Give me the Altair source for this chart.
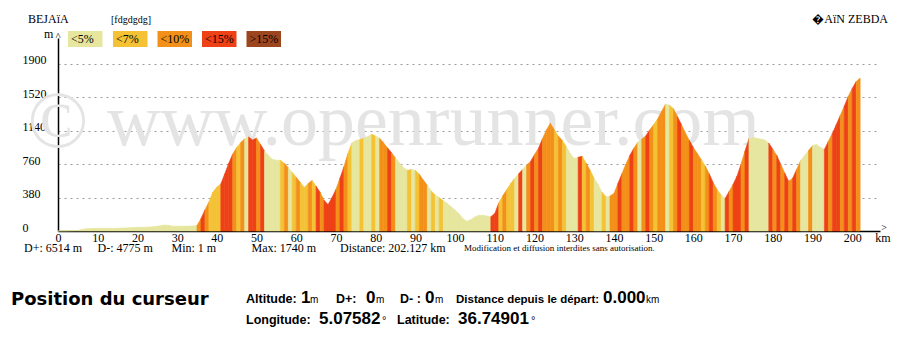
import altair as alt
import pandas as pd

# ---------------- data ----------------
elev = [
    1, 2, 3, 4, 5, 8, 18, 25, 28, 30,
    30, 30, 31, 30, 30, 32, 33, 35, 38, 40,
    42, 42, 44, 45, 48, 55, 62, 68, 62, 55,
    54, 55, 55, 56, 58, 62, 140, 240, 330, 440,
    500, 535, 650, 770, 875, 950, 1005, 1050, 1070, 1035,
    1058, 985, 910, 860, 815, 805, 805, 770, 720, 665,
    610, 555, 495, 540, 575, 510, 440, 350, 300, 380,
    475, 600, 730, 880, 1000, 1030, 1040, 1055, 1075, 1100,
    1080, 1055, 1000, 945, 890, 830, 775, 720, 690, 700,
    690, 645, 580, 520, 455, 410, 380, 345, 315, 275,
    240, 195, 140, 110, 130, 160, 180, 178, 170, 163,
    200, 320, 400, 470, 540, 600, 650, 700, 750, 790,
    870, 940, 1050, 1150, 1225, 1150, 1080, 1030, 960, 880,
    825, 840, 850, 770, 690, 600, 530, 440, 390, 397,
    427, 540, 650, 760, 860, 940, 1010, 1045, 1080, 1150,
    1210, 1275, 1360, 1445, 1430, 1390, 1300, 1210, 1115, 1030,
    950, 880, 810, 740, 650, 550, 470, 410, 370, 450,
    530, 625, 760, 910, 1050, 1062, 1055, 1045, 1035, 1000,
    930, 860, 760, 660, 565, 600, 700, 800, 860, 915,
    970, 985, 950, 928, 1020, 1110, 1210, 1315, 1420, 1530,
    1620, 1700, 1740,
]
km = list(range(len(elev)))

# slope class of each 1-km segment (index into labels)
cats = [
    0, 0, 0, 0, 0, 0, 0, 0, 0, 0,
    0, 0, 0, 0, 0, 0, 0, 0, 0, 0,
    0, 0, 0, 0, 0, 0, 0, 0, 0, 0,
    0, 0, 0, 0, 0, 2, 3, 2, 1, 1,
    1, 3, 3, 3, 2, 1, 2, 0, 3, 3,
    2, 3, 0, 0, 0, 0, 1, 2, 0, 1,
    2, 1, 1, 2, 1, 3, 2, 3, 3, 3,
    2, 3, 2, 1, 0, 0, 1, 0, 0, 1,
    0, 2, 2, 3, 2, 0, 0, 0, 1, 0,
    1, 2, 2, 0, 1, 0, 1, 0, 0, 0,
    0, 0, 0, 0, 0, 0, 0, 0, 0, 3,
    3, 1, 2, 1, 1, 0, 3, 0, 2, 3,
    2, 3, 2, 2, 2, 1, 2, 1, 0, 0,
    0, 3, 1, 2, 1, 0, 0, 1, 0, 2,
    2, 3, 2, 2, 3, 2, 0, 2, 3, 2,
    1, 2, 2, 0, 1, 2, 3, 2, 2, 3,
    2, 2, 1, 2, 3, 2, 1, 0, 3, 2,
    3, 3, 2, 3, 0, 0, 0, 0, 0, 3,
    2, 3, 2, 3, 2, 3, 2, 0, 0, 2,
    0, 0, 0, 3, 2, 3, 3, 2, 3, 2,
    3, 2,
]

labels = ["<5%", "<7%", "<10%", "<15%", ">15%"]
colors = ["#e6e69e", "#f4c234", "#f39019", "#ee4116", "#9c4620"]
y_ticks = [0, 380, 760, 1140, 1520, 1900]
x_ticks = list(range(0, 201, 10))

stats = ["D+: 6514 m", "D-: 4775 m", "Min: 1 m", "Max: 1740 m", "Distance: 202.127 km"]

rows = []
for k, c in enumerate(cats):
    for j in (k, k + 1):
        rows.append({"seg": k, "km": km[j], "elev": elev[j], "cat": labels[c]})
df = pd.DataFrame(rows)

# ---------------- layout ----------------
L, T, W, H = 58, 38, 822, 193
SERIF = "Liberation Serif"
SANS = "Liberation Sans"


def txt(s, X, Y, size=12, font=SERIF, weight="normal", align="left",
        color="black", baseline="alphabetic"):
    return alt.Chart(alt.Data(values=[{"t": s}])).mark_text(
        font=font, fontSize=size, fontWeight=weight, align=align,
        baseline=baseline, color=color,
    ).encode(x=alt.value(X - L), y=alt.value(Y - T), text=alt.Text("t:N"))


wm_copy = txt("\u00a9", 58, 147, size=80, align="center", color="#e4e4e4")
wm_text = txt("www.openrunner.com", 107, 145, size=74, align="left", color="#e4e4e4")

cscale = alt.Scale(domain=labels, range=colors)
profile = alt.Chart(df).mark_area(strokeWidth=0.6, interpolate="linear").encode(
    x=alt.X("km:Q",
            scale=alt.Scale(domain=[0, 207], nice=False, zero=False),
            axis=alt.Axis(values=x_ticks, title=None, grid=False, tickSize=0,
                          labelFont=SERIF, labelFontSize=12, labelColor="black",
                          labelBaseline="alphabetic", labelPadding=10,
                          labelFlush=False, labelOverlap=False,
                          domainColor="black", domainWidth=1.5)),
    y=alt.Y("elev:Q", stack=None,
            scale=alt.Scale(domain=[0, 2195], nice=False),
            axis=alt.Axis(values=y_ticks, title=None, tickSize=0, format="d",
                          labelFont=SERIF, labelFontSize=12, labelColor="black",
                          labelAlign="left", labelBaseline="alphabetic",
                          labelPadding=36, labelFlush=False,
                          grid=True, gridColor="#9a9a9a", gridDash=[2, 4],
                          gridWidth=1,
                          domainColor="black", domainWidth=1.5)),
    fill=alt.Fill("cat:N", scale=cscale, legend=None),
    stroke=alt.Stroke("cat:N", scale=cscale, legend=None),
    detail="seg:N",
)

layers = [wm_copy, wm_text, profile]

# header texts
layers.append(txt("BEJAïA", 28, 23, size=12))
layers.append(txt("[fdgdgdg]", 111, 23, size=10))
layers.append(txt("\ufffdAïN ZEBDA", 888, 23, size=12, align="right"))
layers.append(txt("m", 44, 38, size=12))
layers.append(txt("^", 58, 40, size=11, align="center"))

# slope legend
box_x = [68, 113, 157.5, 202, 246.5]
for lab, col, bx in zip(labels, colors, box_x):
    layers.append(
        alt.Chart(alt.Data(values=[{"t": lab}])).mark_rect(color=col).encode(
            x=alt.value(bx - L), x2=alt.value(bx + 34.5 - L),
            y=alt.value(31 - T), y2=alt.value(47 - T))
    )
    layers.append(txt(lab, bx + 3, 43, size=12))

# axis end marks
layers.append(txt(">", 884, 231, size=10, align="center"))
layers.append(txt("km", 883, 242, size=12, align="center"))

# stats line
stat_x = [24, 97.5, 171.5, 251.5, 340]
for s, sx in zip(stats, stat_x):
    layers.append(txt(s, sx, 252, size=12))
layers.append(txt("Modification et diffusion interdites sans autorisation.",
                  464, 251, size=9))

# cursor position panel
layers.append(txt("Position du curseur", 11, 305, size=18, font="DejaVu Sans",
                  weight="bold"))
line1 = [
    ("Altitude:", 246, 12.5, "bold"), ("1", 301, 17, "bold"), ("m", 310, 10, "normal"),
    ("D+:", 336, 12.5, "bold"), ("0", 366, 17, "bold"), ("m", 376, 10, "normal"),
    ("D- :", 400, 12.5, "bold"), ("0", 425, 17, "bold"), ("m", 435, 10, "normal"),
    ("Distance depuis le départ:", 456, 11.5, "bold"), ("0.000", 603, 17, "bold"),
    ("km", 646, 10, "normal"),
]
for s, X, sz, w in line1:
    layers.append(txt(s, X, 303, size=sz, font=SANS, weight=w))
line2 = [
    ("Longitude:", 246, 12.5, "bold"), ("5.07582", 319, 17, "bold"), ("°", 382, 11, "normal"),
    ("Latitude:", 397, 12.5, "bold"), ("36.74901", 458, 17, "bold"), ("°", 531, 11, "normal"),
]
for s, X, sz, w in line2:
    layers.append(txt(s, X, 324, size=sz, font=SANS, weight=w))

chart = alt.layer(*layers).properties(
    width=W, height=H,
    autosize="none",
    padding={"left": L, "top": T, "right": 909 - L - W, "bottom": 355 - T - H},
    background="white",
).configure_view(stroke=None)

chart.save("out.html", embed_options={"renderer": "svg", "actions": False})
